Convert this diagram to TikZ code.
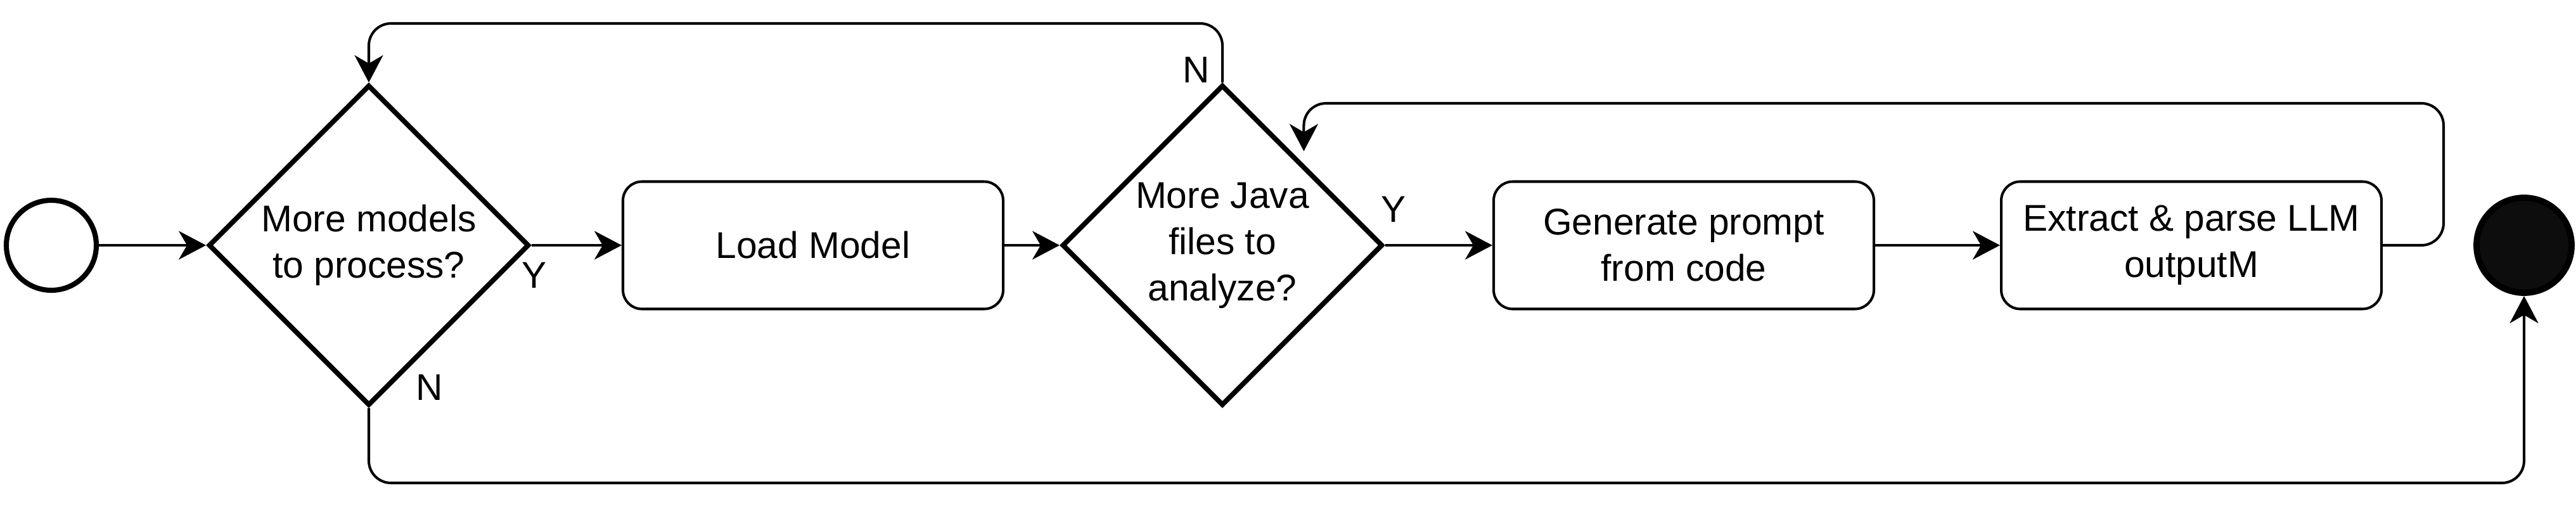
\documentclass[tikz,border=0pt]{standalone}
\usepackage{fontspec}
\setmainfont{Liberation Sans}
\usetikzlibrary{shapes.geometric,arrows.meta}
\definecolor{endfill}{HTML}{0D0D0D}

\begin{document}
\begin{tikzpicture}[every node/.style={font=\fontsize{16.7}{20.8}\selectfont},
  decision/.style={diamond, draw, line width=2.2pt, inner sep=0pt, minimum width=5.06cm, minimum height=5.06cm, align=center},
  action/.style={rectangle, draw, line width=1.15pt, rounded corners=0.3cm, minimum width=6cm, minimum height=2.01cm, align=center},
  startstate/.style={circle, draw, line width=2.3pt, minimum size=1.42cm, inner sep=0pt},
  endstate/.style={circle, draw, fill=endfill, line width=2.8pt, minimum size=1.5cm, inner sep=0pt},
  flow/.style={line width=1.15pt, -{Stealth[length=0.43cm, width=0.45cm, inset=0.13cm]}, rounded corners=0.35cm}]
  \useasboundingbox (0,0) rectangle (40.65,8.1);
  % main row
  \node[startstate] (start) at (0.81,4.23) {};
  \node[decision] (models) at (5.82,4.23) {More models\\to process?};
  \node[action] (load) at (12.83,4.23) {Load Model};
  \node[decision] (files) at (19.29,4.23) {More Java\\files to\\analyze?};
  \node[action] (prompt) at (26.57,4.23) {Generate prompt\\from code};
  \node[action] (parse) at (34.58,4.23) {Extract \& parse LLM\\outputM};
  \node[endstate] (finish) at (39.83,4.23) {};
  % branch labels
  \node (yes1) at (8.43,3.76) {Y};
  \node (no1) at (6.78,1.99) {N};
  \node (no2) at (18.88,7.00) {N};
  \node (yes2) at (21.99,4.80) {Y};
  % turning points of the loops
  \coordinate (filesUp) at (19.29,7.73);
  \coordinate (parseUp) at (38.56,6.47);
  \coordinate (finishDown) at (39.83,0.48);
  \draw[flow] (start) -- (models);
  \draw[flow] (models) -- (load);
  \draw[flow] (load) -- (files);
  \draw[flow] (files) -- (prompt);
  \draw[flow] (prompt) -- (parse);
  \draw[flow] (files.north) -- (filesUp) -| (models.north);
  \draw[flow, shorten >=0.2cm] (parse.east) -| (parseUp) -| (files.north east);
  \draw[flow] (models.south) |- (finishDown) -- (finish.south);
\end{tikzpicture}
\end{document}
